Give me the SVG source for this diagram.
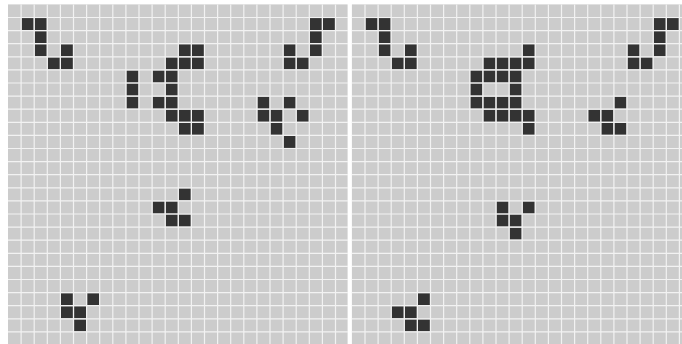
<svg xmlns="http://www.w3.org/2000/svg" width="682" height="344" viewBox="0 0 682 344">
<style>
.bg{fill:#cccccc}
.grid{stroke:#f2f2f2;stroke-width:1.2;fill:none}
.on{fill:#333333}
</style>
<defs>
<rect id="d" width="11.9" height="11.9" class="on"/>
<path id="lines" class="grid" d="M13.1 0V341M26.2 0V341M39.3 0V341M52.4 0V341M65.5 0V341M78.6 0V341M91.7 0V341M104.8 0V341M117.9 0V341M131 0V341M144.1 0V341M157.2 0V341M170.3 0V341M183.4 0V341M196.5 0V341M209.6 0V341M222.7 0V341M235.8 0V341M248.9 0V341M262 0V341M275.1 0V341M288.2 0V341M301.3 0V341M314.4 0V341M327.5 0V341M0 13.1H340M0 26.2H340M0 39.3H340M0 52.4H340M0 65.5H340M0 78.6H340M0 91.7H340M0 104.8H340M0 117.9H340M0 131H340M0 144.1H340M0 157.2H340M0 170.3H340M0 183.4H340M0 196.5H340M0 209.6H340M0 222.7H340M0 235.8H340M0 248.9H340M0 262H340M0 275.1H340M0 288.2H340M0 301.3H340M0 314.4H340M0 327.5H340"/>
</defs>
<rect width="682" height="344" fill="#ffffff"/>
<g id="left" transform="translate(8,4.4)">
<rect class="bg" width="339.6" height="341"/>
<g transform="translate(0.6,0.6)">
<g id="l-eater1"><use href="#d" x="13.1" y="13.1"/><use href="#d" x="26.2" y="13.1"/><use href="#d" x="26.2" y="26.2"/><use href="#d" x="26.2" y="39.3"/><use href="#d" x="52.4" y="39.3"/><use href="#d" x="39.3" y="52.4"/><use href="#d" x="52.4" y="52.4"/></g>
<g id="l-eater2"><use href="#d" x="301.3" y="13.1"/><use href="#d" x="314.4" y="13.1"/><use href="#d" x="301.3" y="26.2"/><use href="#d" x="301.3" y="39.3"/><use href="#d" x="275.1" y="39.3"/><use href="#d" x="275.1" y="52.4"/><use href="#d" x="288.2" y="52.4"/></g>
<g id="l-blinker"><use href="#d" x="117.9" y="65.5"/><use href="#d" x="117.9" y="78.6"/><use href="#d" x="117.9" y="91.7"/></g>
<g id="l-queen"><use href="#d" x="170.3" y="39.3"/><use href="#d" x="183.4" y="39.3"/><use href="#d" x="157.2" y="52.4"/><use href="#d" x="170.3" y="52.4"/><use href="#d" x="183.4" y="52.4"/><use href="#d" x="144.1" y="65.5"/><use href="#d" x="157.2" y="65.5"/><use href="#d" x="157.2" y="78.6"/><use href="#d" x="144.1" y="91.7"/><use href="#d" x="157.2" y="91.7"/><use href="#d" x="157.2" y="104.8"/><use href="#d" x="170.3" y="104.8"/><use href="#d" x="183.4" y="104.8"/><use href="#d" x="170.3" y="117.9"/><use href="#d" x="183.4" y="117.9"/></g>
<g id="l-debris"><use href="#d" x="248.9" y="91.7"/><use href="#d" x="275.1" y="91.7"/><use href="#d" x="248.9" y="104.8"/><use href="#d" x="262" y="104.8"/><use href="#d" x="288.2" y="104.8"/><use href="#d" x="262" y="117.9"/><use href="#d" x="275.1" y="131"/></g>
<g id="l-glider1"><use href="#d" x="170.3" y="183.4"/><use href="#d" x="144.1" y="196.5"/><use href="#d" x="157.2" y="196.5"/><use href="#d" x="157.2" y="209.6"/><use href="#d" x="170.3" y="209.6"/></g>
<g id="l-glider2"><use href="#d" x="52.4" y="288.2"/><use href="#d" x="78.6" y="288.2"/><use href="#d" x="52.4" y="301.3"/><use href="#d" x="65.5" y="301.3"/><use href="#d" x="65.5" y="314.4"/></g>
</g>
<use href="#lines"/>
</g>
<g id="right" transform="translate(351.9,4.4)">
<rect class="bg" width="340.6" height="341"/>
<g transform="translate(0.6,0.6)">
<g id="r-eater1"><use href="#d" x="13.1" y="13.1"/><use href="#d" x="26.2" y="13.1"/><use href="#d" x="26.2" y="26.2"/><use href="#d" x="26.2" y="39.3"/><use href="#d" x="52.4" y="39.3"/><use href="#d" x="39.3" y="52.4"/><use href="#d" x="52.4" y="52.4"/></g>
<g id="r-eater2"><use href="#d" x="301.3" y="13.1"/><use href="#d" x="314.4" y="13.1"/><use href="#d" x="301.3" y="26.2"/><use href="#d" x="301.3" y="39.3"/><use href="#d" x="275.1" y="39.3"/><use href="#d" x="275.1" y="52.4"/><use href="#d" x="288.2" y="52.4"/></g>
<g id="r-queen"><use href="#d" x="170.3" y="39.3"/><use href="#d" x="131" y="52.4"/><use href="#d" x="144.1" y="52.4"/><use href="#d" x="157.2" y="52.4"/><use href="#d" x="170.3" y="52.4"/><use href="#d" x="117.9" y="65.5"/><use href="#d" x="131" y="65.5"/><use href="#d" x="144.1" y="65.5"/><use href="#d" x="157.2" y="65.5"/><use href="#d" x="117.9" y="78.6"/><use href="#d" x="157.2" y="78.6"/><use href="#d" x="117.9" y="91.7"/><use href="#d" x="131" y="91.7"/><use href="#d" x="144.1" y="91.7"/><use href="#d" x="157.2" y="91.7"/><use href="#d" x="131" y="104.8"/><use href="#d" x="144.1" y="104.8"/><use href="#d" x="157.2" y="104.8"/><use href="#d" x="170.3" y="104.8"/><use href="#d" x="170.3" y="117.9"/></g>
<g id="r-glider0"><use href="#d" x="262" y="91.7"/><use href="#d" x="235.8" y="104.8"/><use href="#d" x="248.9" y="104.8"/><use href="#d" x="248.9" y="117.9"/><use href="#d" x="262" y="117.9"/></g>
<g id="r-glider1"><use href="#d" x="144.1" y="196.5"/><use href="#d" x="170.3" y="196.5"/><use href="#d" x="144.1" y="209.6"/><use href="#d" x="157.2" y="209.6"/><use href="#d" x="157.2" y="222.7"/></g>
<g id="r-glider2"><use href="#d" x="65.5" y="288.2"/><use href="#d" x="39.3" y="301.3"/><use href="#d" x="52.4" y="301.3"/><use href="#d" x="52.4" y="314.4"/><use href="#d" x="65.5" y="314.4"/></g>
</g>
<use href="#lines"/>
</g>
</svg>
